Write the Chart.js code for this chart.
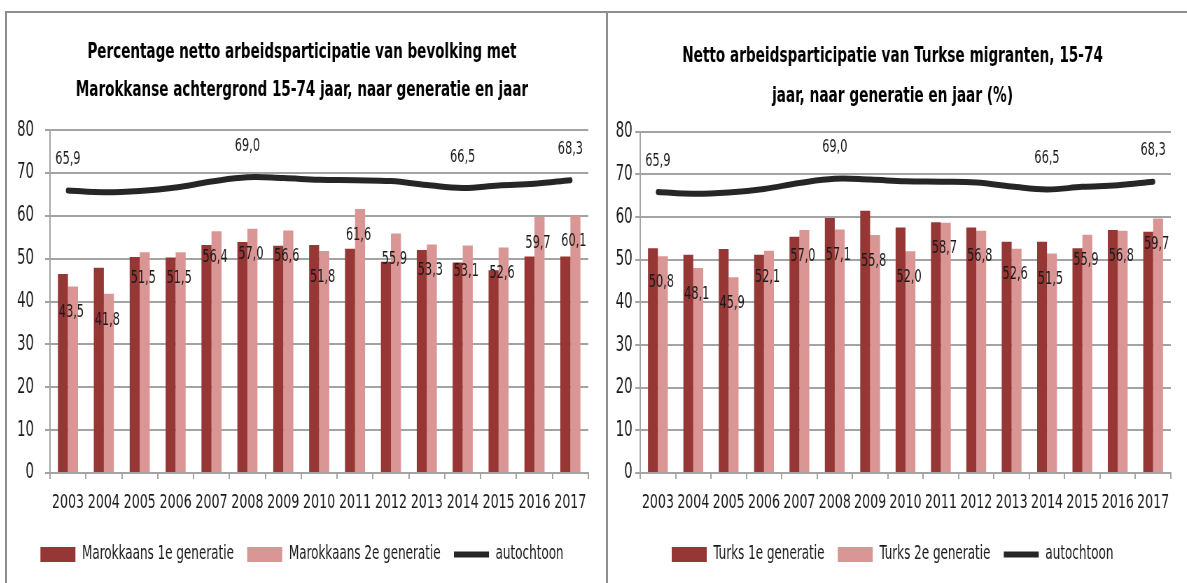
<!DOCTYPE html>
<html>
<head>
<meta charset="utf-8">
<script src="https://cdn.jsdelivr.net/npm/chart.js@4.4.1/dist/chart.umd.min.js"></script>
<style>
	html, body { margin: 0; padding: 0; background: #fff; }
	body { width: 1187px; height: 583px; position: relative; overflow: hidden; }
	.panel { position: absolute; border: 2px solid #8e8e8e; background: #fff; }
	#panelLeft { left: 5px; top: 11px; width: 599px; height: 600px; }
	#panelRight { left: 606px; top: 11px; width: 600px; height: 600px; }
	/* the reference text is narrow and tall, so the canvases are squeezed sideways */
	canvas { position: absolute; transform: scaleX(0.7); transform-origin: 0 0; }
	#chartLeft { left: 8px; top: 14px; }
	#chartRight { left: 608px; top: 14px; }
</style>
</head>
<body>
<div class="panel" id="panelLeft"></div>
<div class="panel" id="panelRight"></div>
<canvas id="chartLeft" width="854" height="569"></canvas>
<canvas id="chartRight" width="817" height="569"></canvas>
<script>
(function () {
	/*global Chart */

	// Data
	var years = ['2003', '2004', '2005', '2006', '2007', '2008', '2009', '2010',
		'2011', '2012', '2013', '2014', '2015', '2016', '2017'];
	var marokkaans1e = [46.4, 47.9, 50.4, 50.3, 53.2, 53.9, 53.0, 53.2, 52.3, 49.3, 52.0, 49.1, 47.3, 50.5, 50.5];
	var marokkaans2e = [43.5, 41.8, 51.5, 51.5, 56.4, 57.0, 56.6, 51.8, 61.6, 55.9, 53.3, 53.1, 52.6, 59.7, 60.1];
	var turks1e = [52.7, 51.2, 52.5, 51.2, 55.4, 59.8, 61.5, 57.6, 58.8, 57.6, 54.2, 54.2, 52.7, 57.0, 56.6];
	var turks2e = [50.8, 48.1, 45.9, 52.1, 57.0, 57.1, 55.8, 52.0, 58.7, 56.8, 52.6, 51.5, 55.9, 56.8, 59.7];
	var autochtoon = [65.9, 65.5, 65.8, 66.6, 68.0, 69.0, 68.8, 68.4, 68.3, 68.1, 67.2, 66.5, 67.1, 67.5, 68.3];
	// years where the autochtoon line carries a label
	var autochtoonLabelYears = ['2003', '2008', '2014', '2017'];
	var yMin = 0, yMax = 80, yStep = 10;

	var FONT = "'DejaVu Sans Condensed', 'DejaVu Sans', sans-serif";
	var TEXT = '#1a1a1a';
	var GRID = '#a3a3a3';
	var DARK = '#963735';
	var PINK = '#d99694';
	var LINE = '#262626';

	Chart.defaults.font.family = FONT;
	Chart.defaults.color = TEXT;

	function fmt(v) {
		return v.toFixed(1).replace('.', ',');
	}

	// Draws the data labels of the 2e generatie bars and the autochtoon line
	var valueLabels = {
		id: 'valueLabels',
		afterDatasetsDraw: function (chart) {
			var ctx = chart.ctx,
				x = chart.scales.x,
				y = chart.scales.y,
				bars = chart.data.datasets[1].data,
				line = chart.data.datasets[2].data;
			ctx.save();
			ctx.font = '18px ' + FONT;
			ctx.fillStyle = TEXT;
			ctx.textAlign = 'center';
			ctx.textBaseline = 'middle';
			for (var i = 0; i < bars.length; i++) {
				ctx.fillText(fmt(bars[i]), x.getPixelForValue(i) + 5, y.getPixelForValue(bars[i]) + 26);
			}
			for (var j = 0; j < autochtoonLabelYears.length; j++) {
				var k = years.indexOf(autochtoonLabelYears[j]);
				ctx.fillText(fmt(line[k]), x.getPixelForValue(k), y.getPixelForValue(line[k]) - 31);
			}
			ctx.restore();
		}
	};

	function makeChart(id, s) {
		return new Chart(document.getElementById(id), {
			type: 'bar',
			data: {
				labels: years,
				datasets: [
					{
						label: s.names[0],
						data: s.first,
						backgroundColor: DARK,
						pointStyle: 'rect',
						barPercentage: 1,
						categoryPercentage: 0.56,
					},
					{
						label: s.names[1],
						data: s.second,
						backgroundColor: PINK,
						pointStyle: 'rect',
						barPercentage: 1,
						categoryPercentage: 0.56,
					},
					{
						type: 'line',
						label: 'autochtoon',
						data: autochtoon,
						borderColor: LINE,
						backgroundColor: LINE,
						borderWidth: 6,
						borderCapStyle: 'round',
						tension: 0.4,
						pointRadius: 0,
						pointStyle: 'line',
					},
				],
			},
			options: {
				responsive: false,
				animation: false,
				layout: {
					padding: { left: s.padLeft, right: s.padRight, top: 0, bottom: 9 },
				},
				plugins: {
					tooltip: { enabled: false },
					title: {
						display: true,
						text: s.title,
						color: '#000',
						font: { size: s.titleSize, weight: 'bold', lineHeight: s.titleLine },
						padding: { top: s.titleTop, bottom: s.titleBottom },
					},
					legend: {
						position: 'bottom',
						labels: {
							usePointStyle: true,
							pointStyleWidth: 50,
							boxHeight: 15,
							padding: 19,
							color: TEXT,
							font: { size: 19 },
						},
					},
				},
				scales: {
					x: {
						grid: {
							drawOnChartArea: false,
							drawTicks: true,
							tickLength: 6,
							color: GRID,
							lineWidth: 2,
						},
						border: { display: true, color: GRID, width: 2 },
						ticks: {
							color: TEXT,
							font: { size: 20 },
							padding: 12,
							maxRotation: 0,
							autoSkip: false,
						},
						afterFit: function (scale) {
							scale.height = 53;
						},
					},
					y: {
						min: yMin,
						max: yMax,
						grid: {
							color: GRID,
							lineWidth: 2,
							tickLength: 7,
						},
						border: { display: true, color: GRID, width: 2 },
						ticks: {
							stepSize: yStep,
							color: TEXT,
							font: { size: 21 },
							padding: s.tickPad,
						},
						afterFit: function (scale) {
							scale.width = s.axisWidth;
						},
					},
				},
			},
			plugins: [valueLabels],
		});
	}

	makeChart('chartLeft', {
		names: ['Marokkaans 1e generatie', 'Marokkaans 2e generatie'],
		first: marokkaans1e,
		second: marokkaans2e,
		title: ['Percentage netto arbeidsparticipatie van bevolking met',
			'Marokkanse achtergrond 15-74 jaar, naar generatie en jaar'],
		titleSize: 21.5,
		titleLine: 1.77,
		titleTop: 19,
		titleBottom: 21,
		padLeft: 11,
		padRight: 25,
		axisWidth: 49,
		tickPad: 16,
	});

	makeChart('chartRight', {
		names: ['Turks 1e generatie', 'Turks 2e generatie'],
		first: turks1e,
		second: turks2e,
		title: ['Netto arbeidsparticipatie van Turkse migranten, 15-74',
			'jaar, naar generatie en jaar (%)'],
		titleSize: 21.7,
		titleLine: 1.84,
		titleTop: 22,
		titleBottom: 16,
		padLeft: 9,
		padRight: 13,
		axisWidth: 37,
		tickPad: 4,
	});
})();
</script>
</body>
</html>
